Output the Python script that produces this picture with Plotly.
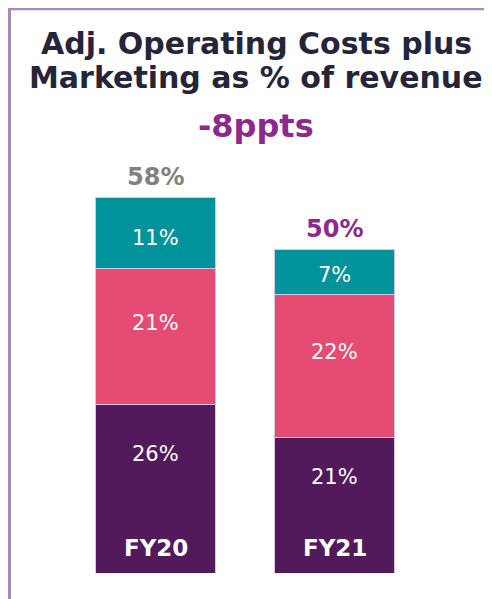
import plotly.graph_objects as go

# data
years = ["FY20", "FY21"]
adj_opex = [26, 21]      # bottom, dark purple
marketing = [21, 22]     # middle, pink
other = [11, 7]          # top, teal
totals = [58, 50]
total_colors = ["#818181", "#8c2a8b"]
title_lines = ["Adj. Operating Costs plus", "Marketing as % of revenue"]
change_label = "-8ppts"

PURPLE = "#521a5a"
PINK = "#e54b73"
TEAL = "#00939b"
FONT = "DejaVu Sans"

fig = go.Figure()
for vals, col in [(adj_opex, PURPLE), (marketing, PINK), (other, TEAL)]:
    fig.add_trace(go.Bar(
        x=years, y=vals,
        marker=dict(color=col, line=dict(color="#d9c6e0", width=1)),
        hoverinfo="skip",
    ))

annotations = []
# segment labels (a little above mid-segment, as in the source)
for i, yr in enumerate(years):
    base = 0
    for vals, frac in [(adj_opex, 0.71), (marketing, 0.6), (other, 0.44)]:
        annotations.append(dict(
            x=yr, y=base + vals[i] * frac, text=f"{vals[i]}%", showarrow=False,
            yanchor="middle",
            font=dict(family=FONT, size=21, color="white"),
            xref="x", yref="y",
        ))
        base += vals[i]
    # category label inside bar bottom
    annotations.append(dict(
        x=yr, y=0, text=f"<b>{yr}</b>", showarrow=False, yanchor="middle", yshift=25,
        font=dict(family=FONT, size=23, color="white"), xref="x", yref="y",
    ))
    # totals above
    annotations.append(dict(
        x=yr, y=totals[i], text=f"<b>{totals[i]}%</b>", showarrow=False,
        yanchor="middle", yshift=21,
        font=dict(family=FONT, size=24, color=total_colors[i]), xref="x", yref="y",
    ))

for line, py in zip(title_lines, [1.2796, 1.1974]):
    annotations.append(dict(
        x=0.531, y=py, xref="paper", yref="paper", text=f"<b>{line}</b>",
        showarrow=False, yanchor="middle",
        font=dict(family=FONT, size=30, color="#262438"),
    ))

annotations.append(dict(
    x=0.531, y=1.0795, xref="paper", yref="paper", text=f"<b>{change_label}</b>",
    showarrow=False, yanchor="middle",
    font=dict(family=FONT, size=32, color="#8b2a8a"),
))

fig.update_layout(
    width=484, height=591,
    barmode="stack", bargap=0.335,
    showlegend=False,
    paper_bgcolor="white", plot_bgcolor="white",
    margin=dict(l=58, r=68, t=151, b=26),
    xaxis=dict(visible=False, range=[-0.5, 1.5]),
    yaxis=dict(visible=False, range=[0, 64]),
    annotations=annotations,
    shapes=[
        dict(type="line", xref="paper", yref="paper",
             x0=-0.1615, x1=1.3, y0=1.3630, y1=1.3630,
             line=dict(color="#a68bb3", width=3)),
        dict(type="line", xref="paper", yref="paper",
             x0=-0.1578, x1=-0.1578, y0=-0.1, y1=1.3660,
             line=dict(color="#a68bb3", width=3)),
    ],
)

fig.write_html("out.html")
